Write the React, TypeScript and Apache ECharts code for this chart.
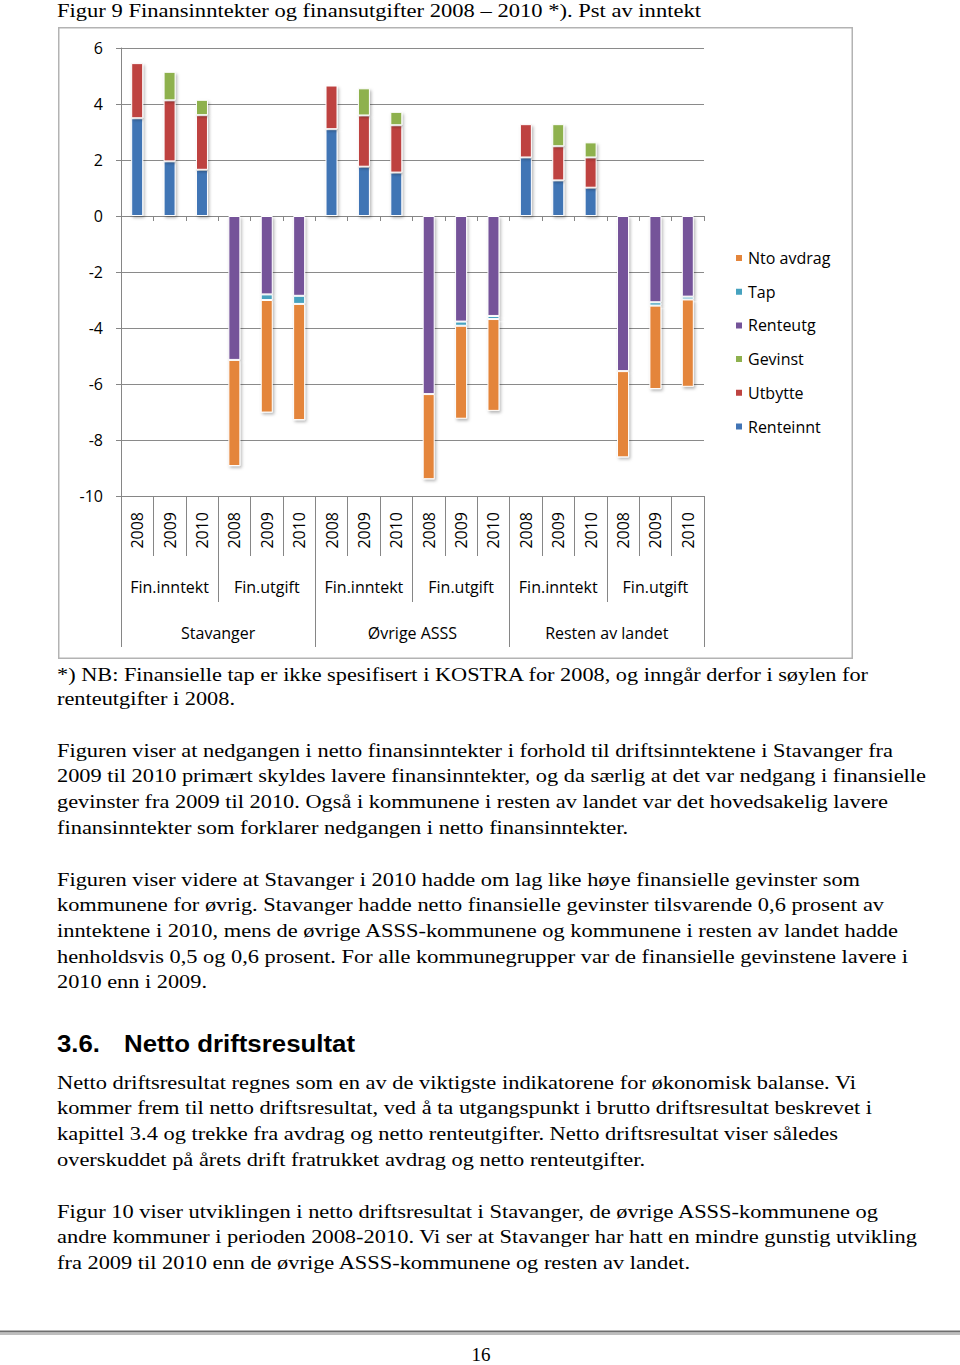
import React, { useEffect, useRef } from "react";
import * as echarts from "echarts";

// ---------- DATA (percent of revenue) ----------
const groups = ["Stavanger", "Øvrige ASSS", "Resten av landet"];
const kinds = ["Fin.inntekt", "Fin.utgift"];
const years = ["2008", "2009", "2010"];

// values per group x year (Stavanger 08,09,10 | Øvrige 08,09,10 | Resten 08,09,10)
const renteinnt = [3.49, 1.95, 1.65, 3.1, 1.76, 1.55, 2.09, 1.27, 1.01];
const utbytte = [1.97, 2.18, 1.95, 1.56, 1.83, 1.69, 1.19, 1.22, 1.08];
const gevinst = [null, 1.02, 0.55, null, 0.97, 0.48, null, 0.79, 0.54];
const renteutg = [5.14, 2.8, 2.85, 6.36, 3.77, 3.57, 5.54, 3.08, 2.88];
const tap = [null, 0.2, 0.29, null, 0.15, 0.11, null, 0.12, 0.1];
const ntoAvdrag = [3.79, 4.02, 4.15, 3.04, 3.32, 3.28, 3.08, 2.98, 3.12];

const yMin = -10;
const yMax = 6;
const yStep = 2;

const legendOrder = ["Nto avdrag", "Tap", "Renteutg", "Gevinst", "Utbytte", "Renteinnt"];
const colors: Record<string, string> = {
  Renteinnt: "#4174B5",
  Utbytte: "#BE4341",
  Gevinst: "#8EB14E",
  Renteutg: "#745399",
  Tap: "#46A2BF",
  "Nto avdrag": "#E4853B",
};

// ---------- build category structure ----------
const cats: string[] = [];
const yearLabels: string[] = [];
const kindLabels: string[] = [];
groups.forEach((g) =>
  kinds.forEach((k) => {
    kindLabels.push(k);
    years.forEach((y) => {
      cats.push(g + " " + k + " " + y);
      yearLabels.push(y);
    });
  })
);

function place(vals: (number | null)[], kindIdx: number, sign: number) {
  const out: (number | null)[] = new Array(cats.length).fill(null);
  groups.forEach((_, gi) =>
    years.forEach((_, yi) => {
      const v = vals[gi * 3 + yi];
      out[gi * 6 + kindIdx * 3 + yi] = v == null ? null : sign * v;
    })
  );
  return out;
}

const seriesDefs = [
  { name: "Renteinnt", data: place(renteinnt, 0, 1) },
  { name: "Utbytte", data: place(utbytte, 0, 1) },
  { name: "Gevinst", data: place(gevinst, 0, 1) },
  { name: "Renteutg", data: place(renteutg, 1, -1) },
  { name: "Tap", data: place(tap, 1, -1) },
  { name: "Nto avdrag", data: place(ntoAvdrag, 1, -1) },
];

const AXIS = "#868686";
const FONT = "'Open Sans', sans-serif";

const tick = (length: number) => ({
  show: true,
  length,
  interval: 0,
  alignWithLabel: false,
  lineStyle: { color: AXIS, width: 1 },
});

const option: any = {
  animation: false,
  textStyle: { fontFamily: FONT },
  graphic: [
    {
      type: "rect",
      silent: true,
      shape: { x: 0.75, y: 0.75, width: 793.5, height: 630.5 },
      style: { fill: "none", stroke: "#b3b3b3", lineWidth: 1.5 },
    },
  ],
  legend: {
    orient: "vertical",
    left: 671,
    top: 216,
    itemWidth: 8,
    itemHeight: 8,
    itemGap: 13.7,
    icon: "rect",
    selectedMode: false,
    data: legendOrder,
    textStyle: { fontSize: 16, color: "#000", lineHeight: 20, fontFamily: FONT },
  },
  grid: { left: 63, top: 21, width: 583, height: 448 },
  xAxis: [
    {
      type: "category",
      data: cats,
      position: "bottom",
      boundaryGap: true,
      axisLine: { show: true, onZero: true, lineStyle: { color: AXIS } },
      axisTick: tick(5),
      axisLabel: { show: false },
    },
    {
      type: "category",
      data: yearLabels,
      position: "bottom",
      boundaryGap: true,
      axisLine: { show: true, onZero: false, lineStyle: { color: AXIS } },
      axisTick: tick(60),
      axisLabel: { show: true, rotate: 90, margin: 16, interval: 0, fontSize: 16, color: "#000", fontFamily: FONT },
    },
    {
      type: "category",
      data: kindLabels,
      position: "bottom",
      boundaryGap: true,
      axisLine: { show: false, onZero: false },
      axisTick: tick(106),
      axisLabel: { show: true, margin: 81, interval: 0, fontSize: 16, lineHeight: 20, color: "#000", fontFamily: FONT },
    },
    {
      type: "category",
      data: groups,
      position: "bottom",
      boundaryGap: true,
      axisLine: { show: false, onZero: false },
      axisTick: tick(151),
      axisLabel: { show: true, margin: 127, interval: 0, fontSize: 16, lineHeight: 20, color: "#000", fontFamily: FONT },
    },
  ],
  yAxis: {
    type: "value",
    min: yMin,
    max: yMax,
    interval: yStep,
    axisLine: { show: true, lineStyle: { color: AXIS } },
    axisTick: { show: true, length: 5, lineStyle: { color: AXIS } },
    splitLine: { show: true, lineStyle: { color: "#8a8a8a" } },
    axisLabel: { fontSize: 16, color: "#000", margin: 18, fontFamily: FONT },
  },
  series: seriesDefs.map((s) => ({
    name: s.name,
    type: "bar",
    stack: "total",
    xAxisIndex: 0,
    barWidth: 12,
    data: s.data,
    itemStyle: {
      color: colors[s.name],
      borderColor: "#ffffff",
      borderWidth: 1,
      shadowColor: "rgba(0,0,0,0.28)",
      shadowBlur: 3,
      shadowOffsetX: 1.5,
      shadowOffsetY: 2,
    },
  })),
};

// ---------- page text ----------
const SERIF = "'Liberation Serif', 'Times New Roman', serif";
const SANS = "'Liberation Sans', Arial, sans-serif";

type L = { t: string; x: number; y: number; r?: number; s?: number; f?: string; w?: number };
const lines: L[] = [
  { t: "Figur 9 Finansinntekter og finansutgifter 2008 – 2010 *). Pst av inntekt", x: 57, y: 16.5, r: 701 },
  { t: "*) NB: Finansielle tap er ikke spesifisert i KOSTRA for 2008, og inngår derfor i søylen for", x: 57, y: 680.5, r: 868 },
  { t: "renteutgifter i 2008.", x: 57, y: 705, r: 235 },
  { t: "Figuren viser at nedgangen i netto finansinntekter i forhold til driftsinntektene i Stavanger fra", x: 57, y: 757, r: 893 },
  { t: "2009 til 2010 primært skyldes lavere finansinntekter, og da særlig at det var nedgang i finansielle", x: 57, y: 782, r: 926 },
  { t: "gevinster fra 2009 til 2010. Også i kommunene i resten av landet var det hovedsakelig lavere", x: 57, y: 808, r: 888 },
  { t: "finansinntekter som forklarer nedgangen i netto finansinntekter.", x: 57, y: 834, r: 628 },
  { t: "Figuren viser videre at Stavanger i 2010 hadde om lag like høye finansielle gevinster som", x: 57, y: 886, r: 860 },
  { t: "kommunene for øvrig. Stavanger hadde netto finansielle gevinster tilsvarende 0,6 prosent av", x: 57, y: 911, r: 884 },
  { t: "inntektene i 2010, mens de øvrige ASSS-kommunene og kommunene i resten av landet hadde", x: 57, y: 937, r: 898 },
  { t: "henholdsvis 0,5 og 0,6 prosent. For alle kommunegrupper var de finansielle gevinstene lavere i", x: 57, y: 963, r: 908 },
  { t: "2010 enn i 2009.", x: 57, y: 988, r: 207 },
  { t: "3.6.", x: 57, y: 1052, r: 100, s: 23.5, f: SANS, w: 700 },
  { t: "Netto driftsresultat", x: 124, y: 1052, r: 355, s: 23.5, f: SANS, w: 700 },
  { t: "Netto driftsresultat regnes som en av de viktigste indikatorene for økonomisk balanse. Vi", x: 57, y: 1089, r: 856 },
  { t: "kommer frem til netto driftsresultat, ved å ta utgangspunkt i brutto driftsresultat beskrevet i", x: 57, y: 1114, r: 872 },
  { t: "kapittel 3.4 og trekke fra avdrag og netto renteutgifter. Netto driftsresultat viser således", x: 57, y: 1140, r: 838 },
  { t: "overskuddet på årets drift fratrukket avdrag og netto renteutgifter.", x: 57, y: 1166, r: 645 },
  { t: "Figur 10 viser utviklingen i netto driftsresultat i Stavanger, de øvrige ASSS-kommunene og", x: 57, y: 1218, r: 878 },
  { t: "andre kommuner i perioden 2008-2010. Vi ser at Stavanger har hatt en mindre gunstig utvikling", x: 57, y: 1243, r: 917 },
  { t: "fra 2009 til 2010 enn de øvrige ASSS-kommunene og resten av landet.", x: 57, y: 1269, r: 690 },
];

export default function App() {
  const ref = useRef<HTMLDivElement>(null);
  useEffect(() => {
    if (!ref.current) return;
    const chart = echarts.init(ref.current, null, { renderer: "svg" });
    chart.setOption(option);
    return () => chart.dispose();
  }, []);

  return (
    <div
      style={{
        position: "absolute",
        left: 0,
        top: 0,
        width: 960,
        height: 1365,
        background: "#fff",
        overflow: "hidden",
      }}
    >
      <svg
        width={960}
        height={1365}
        style={{ position: "absolute", left: 0, top: 0 }}
        xmlns="http://www.w3.org/2000/svg"
      >
        {lines.map((l, i) => (
          <text
            key={i}
            x={l.x}
            y={l.y}
            fontFamily={l.f || SERIF}
            fontSize={l.s || 19.5}
            fontWeight={l.w || 400}
            fill="#000"
            textLength={l.r ? l.r - l.x : undefined}
            lengthAdjust="spacingAndGlyphs"
          >
            {l.t}
          </text>
        ))}
        <line x1={0} y1={1331.5} x2={960} y2={1331.5} stroke="#6f6f6f" strokeWidth={2} />
        <line x1={0} y1={1334} x2={960} y2={1334} stroke="#a8a8a8" strokeWidth={1.5} />
        <text x={481} y={1361} fontFamily={SERIF} fontSize={19} textAnchor="middle" fill="#000">
          16
        </text>
      </svg>
      <div ref={ref} style={{ position: "absolute", left: 58, top: 27, width: 795, height: 632 }} />
    </div>
  );
}
